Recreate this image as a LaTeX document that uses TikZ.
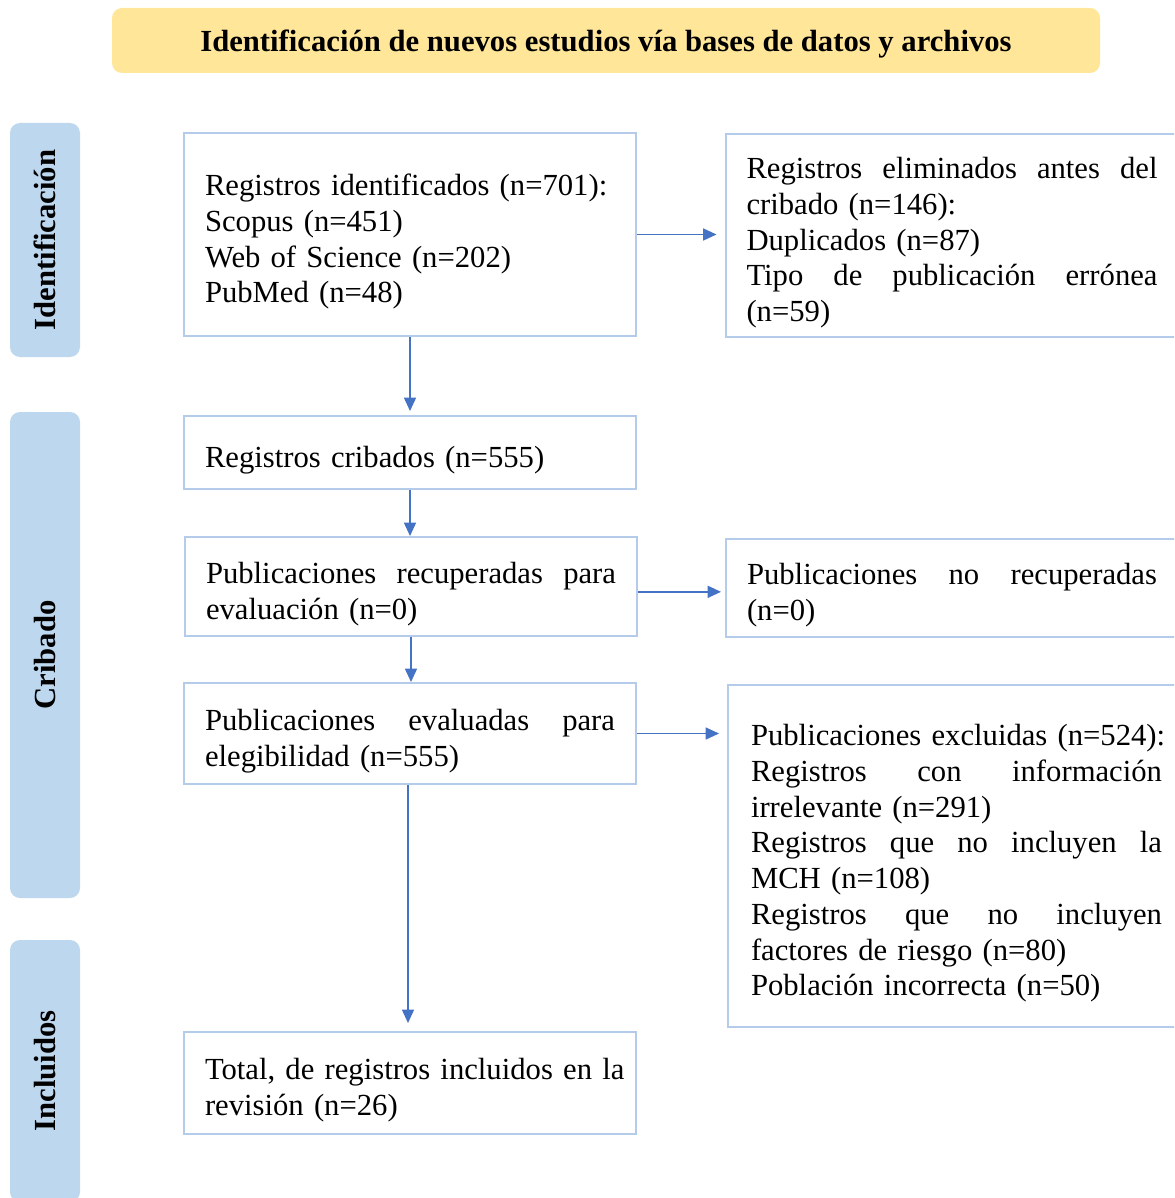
\documentclass[tikz,border=0pt]{standalone}
\usepackage{fontspec}
\setmainfont{Liberation Serif}
\usetikzlibrary{arrows.meta}
\definecolor{boxline}{HTML}{B4CCE9}
\definecolor{sidefill}{HTML}{BDD7EE}
\definecolor{titlefill}{HTML}{FFE699}
\definecolor{arrowblue}{HTML}{4472C4}
\newcommand\jl[1]{\hbox to \hsize{#1}\par}
\newcommand\lf[1]{\hbox to \hsize{#1\hss}\par}
\newcommand\tp{\rule{0pt}{27pt}}
\begin{document}
\begin{tikzpicture}[x=0.75pt,y=-0.75pt,
  every node/.style={font=\fontsize{23}{26.8}\selectfont},
  box/.style={draw=boxline,line width=1.5pt,rectangle,inner xsep=15.75pt,inner ysep=2pt,text width=307.5pt,minimum width=339pt},
  side/.style={fill=sidefill,rounded corners=7.5pt,rotate=90,minimum height=52.5pt,inner sep=0pt,font=\fontsize{23}{26.8}\selectfont\bfseries},
  flow/.style={draw=arrowblue,line width=1.1pt,-{Triangle[length=10pt,width=9pt]}}]
\clip (0,0) rectangle (1174,1198);
% title
\node[fill=titlefill,rounded corners=7.5pt,minimum width=741pt,minimum height=48.75pt,inner sep=0pt,font=\fontsize{23}{26.8}\selectfont\bfseries] (title) at (606,40.5) {\rule{0pt}{22pt}Identificación de nuevos estudios vía bases de datos y archivos};
% side labels
\node[side,minimum width=175.5pt] (s1) at (45,240) {Identificación};
\node[side,minimum width=364.5pt] (s2) at (45,655) {Cribado};
\node[side,minimum width=196.5pt] (s3) at (45,1071) {Incluidos};
% boxes
\node[box,minimum height=152.25pt] (b1) at (410,234.5) {\tp
\lf{Registros identificados (n=701):}%
\lf{Scopus (n=451)}%
\lf{Web of Science (n=202)}%
\lf{PubMed (n=48)}};
\node[box,minimum height=152.25pt,text width=308.25pt,minimum width=339.75pt] (b2) at (952,235.5) {\tp
\jl{Registros\hfill eliminados\hfill antes\hfill del}%
\lf{cribado (n=146):}%
\lf{Duplicados (n=87)}%
\jl{Tipo\hfill de\hfill publicación\hfill errónea}%
\lf{(n=59)}};
\node[box,minimum height=54.75pt] (b3) at (410,452.5) {\tp\lf{Registros cribados (n=555)}};
\node[box,minimum height=74.25pt] (b4) at (411,586.5) {\tp
\jl{Publicaciones\hfill recuperadas\hfill para}%
\lf{evaluación (n=0)}};
\node[box,minimum height=73.5pt] (b5) at (952,588) {\tp
\jl{Publicaciones\hfill no\hfill recuperadas}%
\lf{(n=0)}};
\node[box,minimum height=75.75pt] (b6) at (410,733.5) {\tp
\jl{Publicaciones\hfill evaluadas\hfill para}%
\lf{elegibilidad (n=555)}};
\node[box,minimum height=256.5pt,inner xsep=17.25pt,text width=308.25pt,minimum width=342.75pt] (b7) at (956.5,856) {\tp
\lf{Publicaciones excluidas (n=524):}%
\jl{Registros\hfill con\hfill información}%
\lf{irrelevante (n=291)}%
\jl{Registros\hfill que\hfill no\hfill incluyen\hfill la}%
\lf{MCH (n=108)}%
\jl{Registros\hfill que\hfill no\hfill incluyen}%
\lf{factores de riesgo (n=80)}%
\lf{Población incorrecta (n=50)}};
\node[box,minimum height=76.5pt] (b8) at (410,1083) {\tp
\lf{Total, de registros incluidos en la}%
\lf{revisión (n=26)}};
% connectors
\draw[flow,shorten >=3pt] (b1.south) -- (b1.south |- b3.north);
\draw[flow,shorten >=6pt] (b1.east) -- (b1.east -| b2.west);
\draw[flow] (b3.south) -- (b3.south |- b4.north);
\draw[flow,shorten >=3pt] ([yshift=-4pt]b4.east) -- ([yshift=-4pt]b4.east -| b5.west);
\draw[flow] (b4.south) -- (b4.south |- b6.north);
\draw[flow,shorten >=6pt] (b6.east) -- (b6.east -| b7.west);
\draw[flow,shorten >=6pt] ([xshift=-1.5pt]b6.south) -- ([xshift=-1.5pt]b6.south |- b8.north);
\end{tikzpicture}
\end{document}
